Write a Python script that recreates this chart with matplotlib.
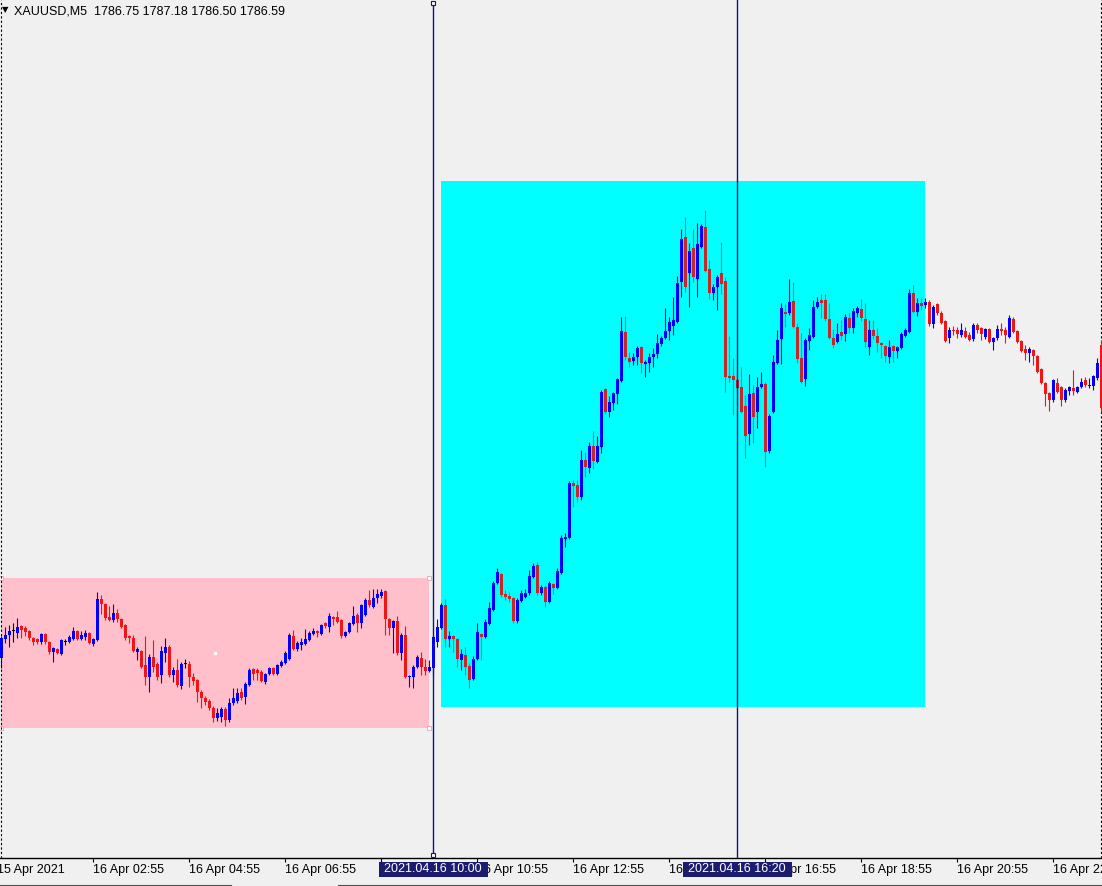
import numpy as np
import matplotlib
matplotlib.use("Agg")
import matplotlib.pyplot as plt
from matplotlib.patches import Rectangle
from matplotlib.lines import Line2D
from matplotlib.transforms import blended_transform_factory, ScaledTranslation

plt.rcParams['font.family'] = ['Liberation Sans', 'DejaVu Sans']

symbol = "XAUUSD,M5"
last_ohlc = ["1786.75", "1787.18", "1786.50", "1786.59"]

# M5 bars, index 0 = first visible bar on the left
opens = [
    1772.10, 1773.05, 1773.25, 1773.45, 1773.35, 1773.70, 1773.60, 1773.45, 1773.10, 1773.05,
    1772.90, 1773.30, 1772.90, 1772.40, 1772.55, 1772.30, 1772.90, 1772.90, 1773.05, 1773.45,
    1773.05, 1773.15, 1773.35, 1772.80, 1773.00, 1775.05, 1774.80, 1774.15, 1774.00, 1774.35,
    1774.05, 1773.75, 1773.20, 1773.10, 1772.40, 1772.45, 1771.75, 1771.15, 1772.15, 1771.80,
    1771.25, 1772.35, 1772.65, 1771.25, 1771.50, 1770.70, 1771.80, 1771.80, 1771.15, 1771.00,
    1770.40, 1770.10, 1769.95, 1769.60, 1769.10, 1769.15, 1769.55, 1769.00, 1769.85, 1769.95,
    1770.40, 1770.15, 1770.75, 1771.55, 1771.50, 1771.40, 1770.90, 1771.30, 1771.60, 1771.30,
    1771.70, 1771.85, 1772.05, 1773.20, 1772.55, 1772.75, 1772.80, 1773.00, 1773.30, 1773.45,
    1773.30, 1773.85, 1773.65, 1774.15, 1774.15, 1774.00, 1773.20, 1773.40, 1773.80, 1774.25,
    1773.85, 1774.25, 1775.00, 1774.65, 1775.10, 1775.20, 1775.45, 1774.05, 1773.60, 1773.95,
    1772.35, 1773.25, 1771.15, 1771.15, 1771.65, 1772.10, 1771.65, 1771.45, 1771.60, 1772.90,
    1773.60, 1774.75, 1773.05, 1773.20, 1773.05, 1772.00, 1772.25, 1771.70, 1771.05, 1772.05,
    1773.30, 1773.15, 1773.80, 1774.50, 1775.85, 1776.30, 1775.30, 1775.20, 1775.10, 1773.95,
    1774.95, 1775.15, 1775.35, 1776.15, 1776.75, 1775.35, 1775.65, 1774.90, 1775.80, 1775.60,
    1776.35, 1778.05, 1778.10, 1780.85, 1780.75, 1780.15, 1782.00, 1781.60, 1782.70, 1781.90,
    1782.65, 1785.55, 1784.40, 1784.85, 1785.30, 1785.95, 1788.40, 1787.10, 1786.95, 1787.15,
    1787.65, 1786.80, 1786.85, 1787.15, 1787.30, 1787.80, 1788.10, 1788.45, 1788.70, 1788.90,
    1790.90, 1793.15, 1791.35, 1792.60, 1791.05, 1792.65, 1793.65, 1791.55, 1790.35, 1790.65,
    1791.35, 1790.95, 1786.20, 1786.20, 1786.00, 1785.65, 1784.70, 1783.30, 1785.35, 1784.40,
    1785.65, 1785.80, 1782.45, 1784.40, 1786.85, 1788.05, 1789.40, 1789.35, 1789.95, 1788.65,
    1787.10, 1786.05, 1787.95, 1788.15, 1789.65, 1790.00, 1790.00, 1789.05, 1788.10, 1787.90,
    1788.40, 1788.30, 1789.10, 1788.60, 1789.35, 1789.55, 1789.05, 1787.65, 1788.50, 1788.20,
    1787.85, 1787.70, 1787.15, 1787.70, 1787.45, 1787.60, 1788.20, 1788.40, 1790.35, 1789.40,
    1789.85, 1789.75, 1789.90, 1788.80, 1789.80, 1789.35, 1788.95, 1788.10, 1788.50, 1788.50,
    1788.25, 1788.45, 1788.25, 1788.05, 1788.75, 1788.60, 1788.15, 1788.55, 1787.90, 1788.10,
    1788.55, 1788.50, 1788.15, 1789.05, 1788.45, 1787.95, 1787.55, 1787.35, 1787.50, 1787.20,
    1786.55, 1785.85, 1785.35, 1785.00, 1785.85, 1785.65, 1785.00, 1785.45, 1785.60, 1785.40,
    1785.65, 1786.00, 1785.70, 1785.70, 1786.10, 1787.75,
]
highs = [
    1773.20, 1773.65, 1773.75, 1773.85, 1774.10, 1773.75, 1773.70, 1773.50, 1773.15, 1773.10,
    1773.35, 1773.35, 1772.95, 1772.65, 1772.60, 1773.05, 1773.05, 1773.25, 1773.65, 1773.50,
    1773.45, 1773.50, 1773.40, 1773.10, 1775.40, 1775.25, 1774.85, 1774.70, 1774.80, 1774.55,
    1774.10, 1773.80, 1773.25, 1773.25, 1772.65, 1772.50, 1773.20, 1772.30, 1773.00, 1771.90,
    1772.70, 1773.10, 1772.75, 1771.65, 1772.05, 1771.90, 1772.05, 1771.95, 1771.35, 1771.05,
    1770.50, 1770.20, 1770.05, 1769.70, 1769.60, 1769.65, 1769.65, 1770.10, 1770.60, 1770.60,
    1770.60, 1770.90, 1771.60, 1771.60, 1771.60, 1771.50, 1771.35, 1771.65, 1771.65, 1771.80,
    1772.00, 1772.45, 1773.35, 1773.50, 1772.95, 1773.10, 1773.55, 1773.45, 1773.60, 1773.50,
    1773.80, 1773.90, 1774.35, 1774.20, 1774.45, 1774.05, 1773.45, 1773.90, 1774.70, 1774.35,
    1774.80, 1775.10, 1775.50, 1775.55, 1775.55, 1775.55, 1775.50, 1774.10, 1774.00, 1774.20,
    1773.35, 1773.70, 1771.25, 1771.75, 1772.25, 1772.40, 1772.05, 1772.00, 1773.25, 1774.05,
    1774.85, 1775.05, 1773.45, 1773.25, 1773.10, 1772.55, 1772.65, 1771.85, 1772.20, 1773.85,
    1773.35, 1774.05, 1774.90, 1775.95, 1776.60, 1776.35, 1775.50, 1775.40, 1775.15, 1775.10,
    1775.50, 1775.55, 1776.50, 1776.85, 1776.90, 1775.75, 1775.75, 1775.95, 1775.85, 1776.60,
    1778.25, 1778.35, 1780.95, 1781.00, 1781.00, 1782.50, 1782.40, 1782.90, 1783.45, 1783.20,
    1785.50, 1785.60, 1785.20, 1785.40, 1786.10, 1789.15, 1789.20, 1787.40, 1787.35, 1787.70,
    1787.70, 1787.00, 1787.35, 1787.60, 1788.30, 1788.20, 1789.60, 1789.15, 1790.15, 1791.20,
    1793.55, 1794.15, 1792.85, 1793.55, 1793.85, 1793.80, 1794.50, 1792.00, 1790.80, 1791.25,
    1792.90, 1791.15, 1788.20, 1787.10, 1786.10, 1786.65, 1785.25, 1786.30, 1785.75, 1786.15,
    1786.40, 1785.90, 1784.30, 1787.25, 1788.50, 1789.85, 1789.80, 1791.05, 1790.90, 1788.85,
    1788.35, 1788.10, 1788.60, 1790.00, 1790.15, 1790.30, 1790.30, 1789.85, 1788.55, 1788.85,
    1789.00, 1789.30, 1789.35, 1789.60, 1789.70, 1790.05, 1789.85, 1789.00, 1789.00, 1788.60,
    1787.90, 1787.75, 1788.00, 1787.75, 1787.70, 1788.40, 1788.60, 1790.55, 1790.75, 1790.10,
    1790.10, 1790.10, 1790.00, 1789.75, 1789.85, 1789.45, 1789.00, 1788.65, 1788.70, 1788.65,
    1788.85, 1788.65, 1788.40, 1788.85, 1788.85, 1788.65, 1788.60, 1788.60, 1788.15, 1788.75,
    1788.85, 1788.65, 1789.25, 1789.15, 1788.50, 1788.00, 1787.75, 1787.65, 1787.55, 1787.25,
    1786.60, 1785.90, 1785.40, 1786.05, 1786.10, 1785.70, 1785.60, 1785.70, 1786.50, 1785.70,
    1786.10, 1786.15, 1786.10, 1786.25, 1787.10, 1788.00,
]
lows = [
    1771.60, 1772.85, 1772.65, 1772.90, 1773.10, 1773.10, 1773.20, 1773.00, 1772.75, 1772.80,
    1772.80, 1772.80, 1772.30, 1771.90, 1772.30, 1772.25, 1772.75, 1772.85, 1773.00, 1773.00,
    1773.00, 1773.00, 1772.80, 1772.70, 1772.95, 1774.30, 1774.00, 1773.95, 1773.90, 1773.90,
    1773.60, 1773.00, 1772.85, 1772.40, 1772.00, 1771.60, 1770.75, 1770.40, 1771.40, 1771.00,
    1770.85, 1771.90, 1771.15, 1770.90, 1770.65, 1770.55, 1771.60, 1770.65, 1770.75, 1769.90,
    1769.60, 1769.75, 1769.50, 1768.90, 1768.95, 1768.90, 1768.70, 1768.90, 1769.75, 1769.85,
    1770.00, 1769.80, 1770.70, 1771.00, 1771.00, 1770.90, 1770.80, 1771.25, 1771.25, 1771.25,
    1771.65, 1771.80, 1772.00, 1772.50, 1772.45, 1772.50, 1772.75, 1772.95, 1773.25, 1773.15,
    1773.25, 1773.60, 1773.40, 1773.75, 1773.85, 1773.10, 1773.15, 1773.35, 1773.75, 1773.40,
    1773.60, 1774.20, 1774.65, 1774.60, 1774.85, 1775.10, 1773.25, 1773.25, 1772.35, 1772.25,
    1772.00, 1771.10, 1770.65, 1770.60, 1771.60, 1771.25, 1771.25, 1771.40, 1771.25, 1772.65,
    1773.55, 1772.65, 1772.65, 1772.40, 1771.65, 1771.50, 1771.25, 1770.60, 1771.00, 1772.00,
    1772.00, 1773.10, 1773.75, 1774.45, 1775.80, 1775.15, 1775.00, 1774.90, 1773.85, 1773.85,
    1774.90, 1775.10, 1775.25, 1776.10, 1775.25, 1775.25, 1774.65, 1774.85, 1775.30, 1775.55,
    1776.30, 1777.65, 1778.05, 1779.65, 1779.90, 1780.00, 1781.15, 1781.35, 1781.55, 1781.85,
    1782.35, 1784.30, 1784.15, 1784.50, 1784.80, 1785.90, 1787.00, 1786.65, 1786.75, 1786.75,
    1786.35, 1786.15, 1786.40, 1786.65, 1787.10, 1787.70, 1788.05, 1788.00, 1788.25, 1788.85,
    1790.15, 1790.40, 1789.65, 1790.90, 1790.15, 1792.60, 1791.40, 1790.05, 1790.00, 1789.50,
    1790.30, 1785.40, 1785.90, 1784.25, 1785.40, 1784.35, 1782.10, 1782.75, 1782.85, 1783.60,
    1785.60, 1781.65, 1782.35, 1784.35, 1786.80, 1786.80, 1788.65, 1789.25, 1788.60, 1786.85,
    1785.85, 1785.70, 1787.50, 1788.10, 1789.60, 1789.10, 1788.95, 1788.05, 1787.60, 1787.85,
    1788.00, 1787.95, 1788.35, 1788.35, 1789.15, 1788.95, 1787.65, 1787.25, 1788.05, 1787.40,
    1787.10, 1786.90, 1786.85, 1786.90, 1787.10, 1787.55, 1788.15, 1788.35, 1789.35, 1789.20,
    1789.50, 1789.60, 1788.70, 1788.60, 1789.25, 1788.80, 1787.90, 1787.85, 1788.25, 1788.10,
    1788.15, 1788.10, 1787.95, 1787.95, 1788.35, 1788.00, 1788.05, 1787.85, 1787.50, 1788.00,
    1788.25, 1787.85, 1788.10, 1788.35, 1787.85, 1787.40, 1787.00, 1786.90, 1786.75, 1786.35,
    1785.80, 1784.70, 1784.45, 1784.90, 1785.35, 1784.70, 1784.90, 1785.25, 1785.25, 1785.35,
    1785.60, 1785.65, 1785.60, 1785.50, 1786.00, 1784.40,
]
closes = [
    1773.10, 1773.25, 1773.45, 1773.45, 1773.65, 1773.50, 1773.40, 1773.10, 1772.90, 1772.90,
    1773.30, 1772.90, 1772.40, 1772.60, 1772.35, 1773.00, 1772.90, 1773.15, 1773.45, 1773.05,
    1773.25, 1773.35, 1772.85, 1773.05, 1775.05, 1774.80, 1774.10, 1774.00, 1774.35, 1774.05,
    1773.65, 1773.10, 1773.10, 1772.45, 1772.55, 1771.65, 1771.15, 1772.15, 1771.65, 1771.15,
    1772.45, 1772.65, 1771.25, 1771.50, 1770.75, 1771.80, 1771.80, 1771.15, 1770.95, 1770.40,
    1770.10, 1769.90, 1769.60, 1769.10, 1769.35, 1769.55, 1769.00, 1769.85, 1770.10, 1770.35,
    1770.10, 1770.80, 1771.50, 1771.30, 1771.35, 1770.95, 1771.30, 1771.60, 1771.30, 1771.75,
    1771.90, 1772.35, 1773.25, 1772.55, 1772.85, 1772.90, 1773.05, 1773.35, 1773.45, 1773.35,
    1773.75, 1773.70, 1774.20, 1774.05, 1773.90, 1773.20, 1773.40, 1773.85, 1774.20, 1773.85,
    1774.75, 1775.00, 1774.75, 1775.10, 1775.30, 1775.40, 1774.05, 1773.60, 1773.95, 1772.35,
    1773.25, 1771.15, 1771.20, 1771.65, 1772.15, 1771.65, 1771.45, 1771.65, 1773.15, 1773.65,
    1774.75, 1773.05, 1773.20, 1773.05, 1772.05, 1772.30, 1771.65, 1771.00, 1772.05, 1773.40,
    1773.15, 1773.90, 1774.60, 1775.85, 1776.40, 1775.25, 1775.15, 1775.05, 1773.95, 1775.00,
    1775.35, 1775.35, 1776.20, 1776.70, 1775.35, 1775.65, 1774.90, 1775.85, 1775.60, 1776.45,
    1778.10, 1778.15, 1780.85, 1780.70, 1780.15, 1782.00, 1781.65, 1782.70, 1781.95, 1782.70,
    1785.40, 1784.40, 1784.90, 1785.35, 1786.05, 1788.45, 1787.15, 1786.90, 1787.15, 1787.60,
    1786.85, 1786.90, 1787.15, 1787.30, 1787.85, 1788.10, 1788.45, 1788.90, 1789.00, 1790.85,
    1793.05, 1790.65, 1792.45, 1791.15, 1792.80, 1793.70, 1791.45, 1790.35, 1790.65, 1791.15,
    1790.80, 1786.15, 1786.10, 1786.00, 1785.60, 1784.40, 1783.20, 1785.30, 1784.15, 1785.65,
    1785.80, 1782.40, 1784.20, 1786.90, 1788.00, 1789.60, 1789.30, 1789.90, 1788.65, 1787.05,
    1785.90, 1788.00, 1788.25, 1789.65, 1789.90, 1789.85, 1789.05, 1788.10, 1787.75, 1788.30,
    1788.20, 1789.15, 1788.60, 1789.45, 1789.60, 1789.10, 1787.90, 1788.50, 1788.20, 1787.85,
    1787.75, 1787.20, 1787.65, 1787.45, 1787.65, 1788.30, 1788.50, 1790.35, 1789.40, 1789.85,
    1789.70, 1789.90, 1788.80, 1789.65, 1789.35, 1788.85, 1787.95, 1788.50, 1788.45, 1788.30,
    1788.50, 1788.15, 1788.00, 1788.75, 1788.50, 1788.30, 1788.55, 1787.90, 1788.10, 1788.55,
    1788.45, 1788.25, 1789.10, 1788.40, 1787.90, 1787.45, 1787.35, 1787.55, 1787.20, 1786.40,
    1785.85, 1785.30, 1785.00, 1786.00, 1785.40, 1785.00, 1785.50, 1785.65, 1785.45, 1785.65,
    1785.90, 1785.75, 1785.75, 1786.20, 1786.85, 1784.60,
]

tick_bars = [-1, 23, 47, 71, 95, 119, 143, 167, 191, 215, 239, 263]
tick_labels = ["15 Apr 2021", "16 Apr 02:55", "16 Apr 04:55", "16 Apr 06:55",
               "16 Apr 08:55", "16 Apr 10:55", "16 Apr 12:55", "16 Apr 14:55",
               "16 Apr 16:55", "16 Apr 18:55", "16 Apr 20:55", "16 Apr 22:55"]

vline_bars = [108, 184]
vline_times = ["2021.04.16 10:00", "2021.04.16 16:20"]

# rectangles: bar from, bar to, price low, price high
pink_zone = (0, 107, 1768.60, 1776.10)
cyan_zone = (110, 231, 1769.65, 1795.95)

BG = '#F0F0F0'
W, H = 1102, 886

fig = plt.figure(figsize=(W / 100, H / 100), dpi=100, facecolor=BG)
ax = fig.add_axes([0, 28 / H, 1, 858 / H])
ax.set_facecolor(BG)
ax.set_xlim(-0.3, 275.2)
ax.set_ylim(1762.1, 1805)
for s in ('top', 'left', 'right'):
    ax.spines[s].set_visible(False)
ax.spines['bottom'].set_linewidth(1.0)
ax.set_yticks([])

# zones
for (b0, b1, p0, p1), col in ((pink_zone, '#FFC0CB'), (cyan_zone, '#00FFFF')):
    ax.add_patch(Rectangle((b0, p0), b1 - b0, p1 - p0, facecolor=col,
                           edgecolor='none', zorder=1))
b0, b1, p0, p1 = pink_zone
ax.plot([b0, b1, b0, b1], [p0, p0, p1, p1], 's', ms=2.5, mfc='white',
        mec='#E0A8B0', mew=0.6, zorder=6, clip_on=False)
ax.plot([(b0 + b1) / 2], [(p0 + p1) / 2], 's', ms=2, color='white', zorder=6)

# candles
o = np.array(opens); h = np.array(highs); l = np.array(lows); c = np.array(closes)
idx = np.arange(len(o))
in_cyan = (idx >= cyan_zone[0]) & (idx <= cyan_zone[1])
up = c > o
flat = c == o
body_col = np.where(up, '#0000FF', np.where(in_cyan, '#C62828', '#F01414'))
wick_col = np.where(up, '#0000FF', np.where(in_cyan, '#847468', '#F01414'))
body_col[flat] = 'black'
wick_col[flat] = 'black'

ax.vlines(idx, l, h, colors=wick_col, linewidth=0.8, zorder=3)
ax.bar(idx, np.maximum(np.abs(c - o), 0.04), bottom=np.minimum(o, c), width=0.75,
       color=body_col, linewidth=0, zorder=4)

# chart borders (dashed)
ax.axvline(-0.05, color='black', lw=0.8, ls=(0, (2, 2)), zorder=7)
ax.axvline(274.95, color='black', lw=0.8, ls=(0, (2, 2)), zorder=2)

# vertical lines
navy = '#101090'
top_p, bot_p = 1805 - 3 * 0.05, 1805 - 855 * 0.05
ax.plot([vline_bars[0]] * 2, [bot_p, top_p], color=navy, lw=1.0, zorder=5)
ax.plot([vline_bars[0]] * 2, [bot_p, top_p], 's', ms=3, mfc='white', mec=navy,
        mew=0.8, zorder=6, clip_on=False)
ax.axvline(vline_bars[1], color=navy, lw=1.0, zorder=5)

# x axis
ax.set_xticks(tick_bars[1:], tick_labels[1:], ha='left', fontsize=9)
ax.tick_params(axis='x', length=3.2, width=0.8, pad=1.2, colors='black')
trans = blended_transform_factory(ax.transData, ax.transAxes)
ax.text(tick_bars[0], 0, tick_labels[0], ha='left', va='top', fontsize=9,
        transform=trans + ScaledTranslation(0, -4.4 / 72, fig.dpi_scale_trans),
        clip_on=False)

for b, t in zip(vline_bars, vline_times):
    ax.add_patch(Rectangle((b - 13.6, -19 / 858), 27.25, 15.5 / 858, transform=trans,
                           facecolor='#1C1C6E', edgecolor='none', zorder=8,
                           clip_on=False))
    ax.text(b, -11.5 / 858, t, transform=trans, color='white', ha='center',
            va='center', fontsize=9, zorder=9, clip_on=False)

# header
fig.text(14 / W, 1 - 11 / H, f"{symbol}  {' '.join(last_ohlc)}", ha='left',
         va='center', fontsize=9)
fig.text(5 / W, 1 - 10 / H, '\u25BC', family='DejaVu Sans', fontsize=6,
         ha='center', va='center')

# bottom tab bar edge
fig.add_artist(Line2D([0, 231 / W], [1.5 / H] * 2, color='#505050', lw=0.8))
fig.add_artist(Line2D([338 / W, 1], [1.5 / H] * 2, color='#505050', lw=0.8))

fig.savefig("out.png", dpi=100, facecolor=BG)
